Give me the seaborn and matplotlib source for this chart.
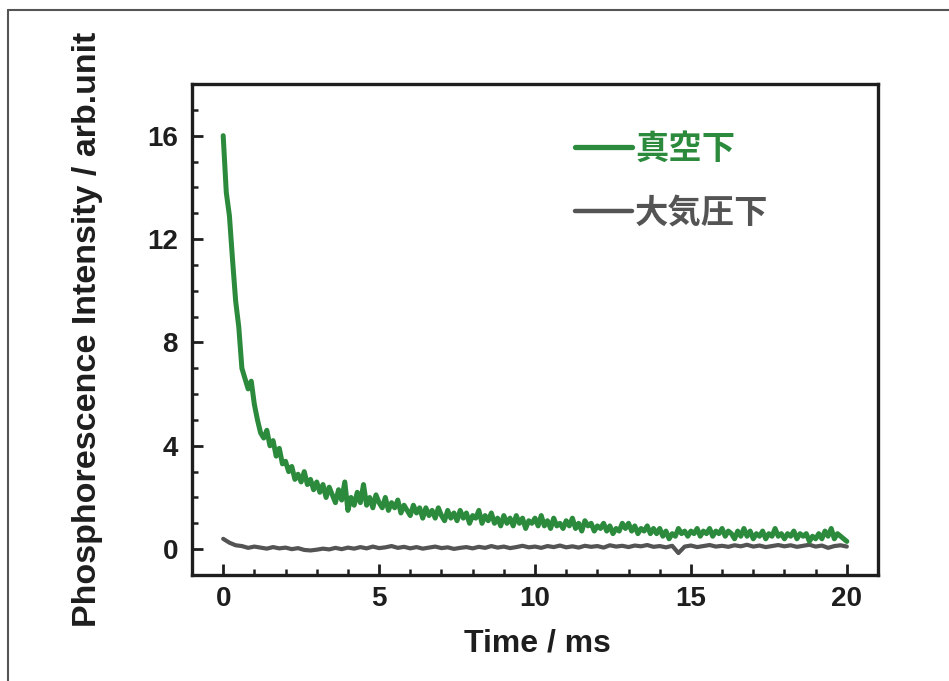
import numpy as np
import pandas as pd
import matplotlib
matplotlib.use("Agg")
import matplotlib.pyplot as plt
import seaborn as sns
from matplotlib.lines import Line2D

# ---- data ----
t_start, t_stop = 0.0, 20.0
vacuum_intensity = [
    16.0, 13.8, 12.9, 11.2, 9.6, 8.6, 7.0, 6.6, 6.2, 6.5,   # 0.0-0.9
    5.6, 5.0, 4.5, 4.3, 4.6, 4.0, 4.2, 3.6, 3.9, 3.3,      # 1.0-1.9
    3.4, 3.0, 3.2, 2.7, 2.9, 2.6, 3.0, 2.5, 2.7, 2.3,      # 2.0-2.9
    2.6, 2.2, 2.5, 2.0, 2.4, 2.1, 1.8, 2.3, 1.9, 2.6,      # 3.0-3.9
    1.5, 2.0, 1.7, 2.2, 1.8, 2.5, 1.7, 2.0, 1.6, 2.1,      # 4.0-4.9
    1.8, 1.6, 2.0, 1.5, 1.8, 1.6, 1.9, 1.4, 1.7, 1.5,      # 5.0-5.9
    1.3, 1.7, 1.4, 1.6, 1.2, 1.6, 1.3, 1.5, 1.2, 1.6,      # 6.0-6.9
    1.3, 1.1, 1.5, 1.2, 1.4, 1.1, 1.5, 1.2, 1.4, 1.0,      # 7.0-7.9
    1.3, 1.2, 1.5, 1.0, 1.3, 1.1, 1.4, 1.0, 1.2, 0.9,      # 8.0-8.9
    1.3, 1.0, 1.2, 0.9, 1.3, 1.0, 1.2, 0.8, 1.1, 1.0,      # 9.0-9.9
    1.2, 0.9, 1.3, 0.9, 1.1, 0.8, 1.2, 0.9, 1.0, 0.8,      # 10.0-10.9
    1.1, 0.9, 1.2, 0.8, 1.0, 0.7, 1.1, 0.9, 1.0, 0.7,      # 11.0-11.9
    0.9, 0.8, 1.0, 0.7, 0.9, 0.6, 0.8, 0.7, 1.0, 0.8,      # 12.0-12.9
    1.0, 0.7, 0.9, 0.6, 0.8, 0.7, 0.9, 0.6, 0.8, 0.6,      # 13.0-13.9
    0.8, 0.5, 0.7, 0.4, 0.6, 0.5, 0.8, 0.6, 0.7, 0.5,      # 14.0-14.9
    0.7, 0.6, 0.8, 0.5, 0.7, 0.6, 0.8, 0.5, 0.7, 0.6,      # 15.0-15.9
    0.8, 0.5, 0.7, 0.6, 0.4, 0.7, 0.5, 0.8, 0.5, 0.7,      # 16.0-16.9
    0.4, 0.6, 0.5, 0.7, 0.4, 0.6, 0.5, 0.8, 0.5, 0.6,      # 17.0-17.9
    0.4, 0.6, 0.5, 0.7, 0.4, 0.6, 0.5, 0.6, 0.3, 0.5,      # 18.0-18.9
    0.4, 0.6, 0.4, 0.7, 0.5, 0.8, 0.4, 0.6, 0.5, 0.4,      # 19.0-19.9
    0.3,                                                   # 20.0
]
air_intensity = [
    0.40, 0.25, 0.15, 0.12, 0.05, 0.10, 0.06, 0.02, 0.08, 0.03,    # 0.0-1.8
    0.06, 0.00, 0.04, -0.03, -0.05, -0.02, 0.02, -0.01, 0.05, 0.00, # 2.0-3.8
    0.06, 0.02, 0.08, 0.03, 0.10, 0.04, 0.07, 0.12, 0.05, 0.09,    # 4.0-5.8
    0.03, 0.08, 0.02, 0.06, 0.10, 0.04, 0.07, 0.01, 0.05, 0.08,    # 6.0-7.8
    0.03, 0.09, 0.05, 0.12, 0.06, 0.10, 0.04, 0.08, 0.13, 0.07,    # 8.0-9.8
    0.10, 0.05, 0.12, 0.08, 0.14, 0.07, 0.11, 0.06, 0.13, 0.09,    # 10.0-11.8
    0.12, 0.06, 0.15, 0.10, 0.13, 0.08, 0.14, 0.11, 0.16, 0.09,    # 12.0-13.8
    0.12, 0.07, 0.13, -0.15, 0.10, 0.14, 0.08, 0.12, 0.16, 0.10,   # 14.0-15.8
    0.13, 0.09, 0.15, 0.11, 0.17, 0.10, 0.14, 0.08, 0.12, 0.16,    # 16.0-17.8
    0.11, 0.15, 0.09, 0.13, 0.17, 0.10, 0.14, 0.05, 0.12, 0.15,    # 18.0-19.8
    0.10,                                                          # 20.0
]
series_labels = ["真空下", "大気圧下"]
x_ticks = [0, 5, 10, 15, 20]
y_ticks = [0, 4, 8, 12, 16]
x_label = "Time / ms"
y_label = "Phosphorescence Intensity / arb.unit"

t_vac = np.linspace(t_start, t_stop, len(vacuum_intensity))
t_air = np.linspace(t_start, t_stop, len(air_intensity))
df_vac = pd.DataFrame({"t": t_vac, "I": vacuum_intensity})
df_air = pd.DataFrame({"t": t_air, "I": air_intensity})

# ---- style ----
sns.set_style("white")
plt.rcParams["font.family"] = ["Liberation Sans", "Noto Sans CJK JP", "DejaVu Sans"]

GREEN = "#2b8a3c"
GRAY = "#545454"
DARK = "#1e1e1e"

W, H = 949, 681
L, R, T, B = 192, 878, 84, 575
fig = plt.figure(figsize=(W/100, H/100), dpi=100)
ax = fig.add_axes([L/W, 1-B/H, (R-L)/W, (B-T)/H])

sns.lineplot(data=df_air, x="t", y="I", ax=ax, color=GRAY, linewidth=3.0,
             label=series_labels[1], zorder=2)
sns.lineplot(data=df_vac, x="t", y="I", ax=ax, color=GREEN, linewidth=3.6,
             label=series_labels[0], zorder=3)

ax.set_xlim(-1, 21)
ax.set_ylim(-1, 18)
ax.set_xticks(x_ticks)
ax.set_yticks(y_ticks)
ax.set_xticks(np.arange(0, 21, 1), minor=True)
ax.set_yticks(np.arange(0, 18, 1), minor=True)
ax.tick_params(which="major", direction="in", length=8, width=2.0, color=DARK,
               labelsize=20, pad=8, bottom=True, left=True, top=False, right=False)
ax.tick_params(axis="y", which="major", pad=10)
ax.tick_params(which="minor", direction="in", length=4.5, width=1.8, color=DARK,
               bottom=True, left=True, top=False, right=False)
for lab in ax.get_xticklabels() + ax.get_yticklabels():
    lab.set_fontweight("bold")
    lab.set_color(DARK)

for s in ax.spines.values():
    s.set_linewidth(2.4)
    s.set_color(DARK)

ax.set_xlabel(x_label, fontsize=23, fontweight="bold", color=DARK)
ax.set_ylabel(y_label, fontsize=24.5, fontweight="bold", color=DARK)
ax.xaxis.set_label_coords((537-L)/(R-L), (B-628)/(B-T))
ax.yaxis.set_label_coords((103-L)/(R-L), 0.5)

handles = [Line2D([], [], color=GREEN, linewidth=3.8),
           Line2D([], [], color=GRAY, linewidth=3.2)]
leg = ax.legend(handles, series_labels, loc="upper left",
                bbox_to_anchor=((574-L)/(R-L) - 0.018, 1-(119-T)/(B-T)),
                frameon=False, handlelength=1.7, handletextpad=0.1,
                labelspacing=0.95, borderaxespad=0.0,
                prop={"family": ["Noto Sans CJK JP"], "weight": "bold", "size": 24},
                labelcolor="linecolor")

# outer frame lines of the figure
fig.add_artist(Line2D([8/W, 1.0], [1-10/H, 1-10/H], color="#555555", linewidth=1.5,
                      transform=fig.transFigure))
fig.add_artist(Line2D([8/W, 8/W], [1-10/H, 0.0], color="#555555", linewidth=1.5,
                      transform=fig.transFigure))

fig.savefig("out.png", dpi=100)
